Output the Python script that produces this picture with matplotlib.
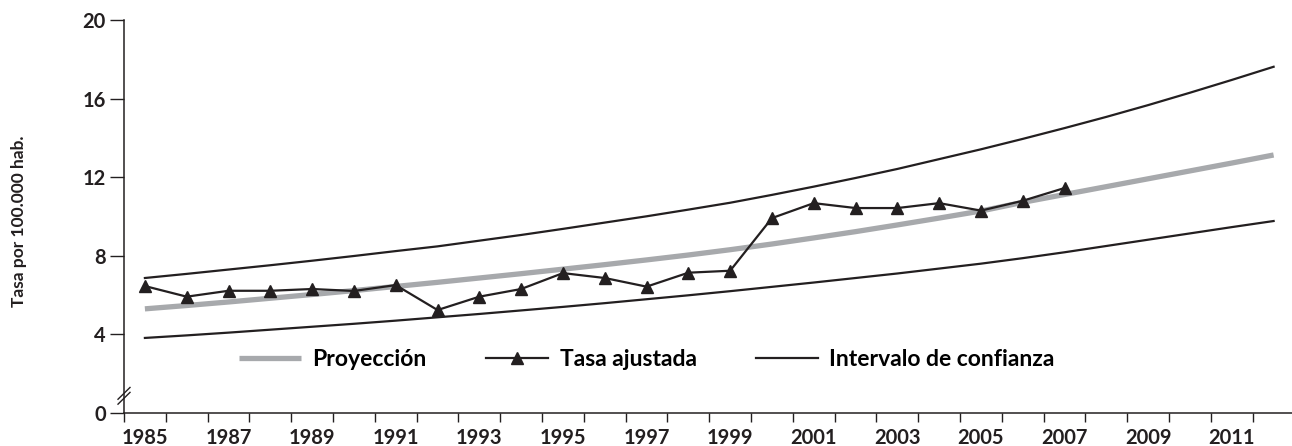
import matplotlib
matplotlib.use("Agg")
import matplotlib.pyplot as plt
import matplotlib.transforms as mtransforms

plt.rcParams["font.family"] = ["Lato", "DejaVu Sans"]

# ------------------------------------
# Data
# ------------------------------------
curve_years = list(range(1985, 2013))

proyeccion = [
    5.30, 5.47, 5.65, 5.84, 6.03, 6.23, 6.44, 6.65, 6.87, 7.09,
    7.32, 7.55, 7.79, 8.04, 8.31, 8.60, 8.91, 9.23, 9.57, 9.92,
    10.28, 10.72, 11.12, 11.52, 11.92, 12.32, 12.72, 13.13,
]

ic_superior = [
    6.87, 7.08, 7.30, 7.52, 7.75, 7.99, 8.24, 8.48, 8.77, 9.06,
    9.37, 9.69, 10.01, 10.35, 10.70, 11.10, 11.52, 11.96, 12.42, 12.92,
    13.42, 13.95, 14.50, 15.07, 15.67, 16.30, 16.95, 17.62,
]

ic_inferior = [
    3.82, 3.95, 4.09, 4.24, 4.39, 4.54, 4.70, 4.87, 5.04, 5.22,
    5.40, 5.59, 5.79, 5.99, 6.20, 6.42, 6.64, 6.87, 7.10, 7.35,
    7.60, 7.88, 8.18, 8.50, 8.82, 9.14, 9.46, 9.77,
]

tasa_years = list(range(1985, 2008))
tasa_ajustada = [
    6.46, 5.92, 6.22, 6.22, 6.31, 6.21, 6.51, 5.24, 5.92, 6.31,
    7.12, 6.87, 6.43, 7.14, 7.24, 9.92, 10.68, 10.43, 10.43, 10.68,
    10.30, 10.80, 11.45,
]

year_labels = list(range(1985, 2012, 2))
y_ticks = [0, 4, 8, 12, 16, 20]

GRAY = "#a7a9ac"
BLACK = "#231f20"

# ------------------------------------
# Figure
# ------------------------------------
W, H = 1292, 446
fig = plt.figure(figsize=(W / 100, H / 100), dpi=100)
ax = fig.add_axes([124 / W, (H - 413) / H, (W - 124) / W, (413 - 20) / H])

ax.plot(curve_years, proyeccion, color=GRAY, lw=3.8, solid_capstyle="butt",
        label="Proyección", zorder=2)
ax.plot(tasa_years, tasa_ajustada, color=BLACK, lw=1.6, marker="^",
        markersize=8.5, label="Tasa ajustada", zorder=4)
ax.plot(curve_years, ic_superior, color=BLACK, lw=1.6,
        label="Intervalo de confianza", zorder=3)
ax.plot(curve_years, ic_inferior, color=BLACK, lw=1.6, zorder=3)

ax.set_xlim(1984.5, 2012.44)
ax.set_ylim(0, 20)

for side in ["top", "right"]:
    ax.spines[side].set_visible(False)
for side in ["left", "bottom"]:
    ax.spines[side].set_linewidth(1.1)
    ax.spines[side].set_color(BLACK)

# year boundaries as tick marks, labels centred on the odd years
ax.set_xticks([y - 0.5 for y in range(1985, 2013)])
ax.set_xticklabels([])
ax.set_xticks(year_labels, minor=True)
ax.set_xticklabels([str(y) for y in year_labels], minor=True,
                   fontsize=14.5, fontweight="bold", color=BLACK)
ax.tick_params(axis="x", which="major", direction="out", length=6.5,
               width=1.0, color=BLACK)
ax.tick_params(axis="x", which="minor", length=0, pad=11)

ax.set_yticks(y_ticks)
ax.set_yticklabels([str(v) for v in y_ticks], fontsize=14.5,
                   fontweight="bold", color=BLACK)
ax.tick_params(axis="y", direction="out", length=10, width=1.0,
               color=BLACK, pad=3)

# axis break on the y axis
brk = mtransforms.blended_transform_factory(ax.transAxes, ax.transData)
dx = 6 / (W - 124)
for y0 in [0.75, 1.0]:
    ax.plot([-dx, dx], [y0 - 0.3, y0 + 0.3], color=BLACK, lw=1.0,
            transform=brk, clip_on=False, zorder=5)

fig.text(19 / W, (H - 221) / H, "Tasa por 100.000 hab.", rotation=90,
         ha="center", va="center", fontsize=12.5, fontweight="bold",
         color=BLACK)

ax.legend(loc="center left", bbox_to_anchor=(239 / W, (H - 360) / H),
          bbox_transform=fig.transFigure, ncol=3, frameon=False,
          borderpad=0, borderaxespad=0, handlelength=2.7,
          handletextpad=0.5, columnspacing=2.6, numpoints=1,
          prop={"size": 16.5, "weight": "bold"})

fig.savefig("out.png", dpi=100)
